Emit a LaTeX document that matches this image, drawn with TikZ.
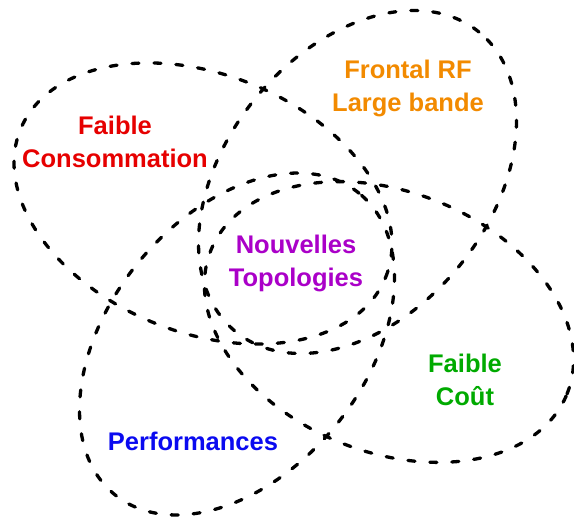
\documentclass[tikz,border=0pt]{standalone}
\usepackage{fontspec}
\setmainfont{Liberation Sans}
\usepackage{tikz}

\definecolor{consored}{RGB}{230,0,0}
\definecolor{rforange}{RGB}{242,138,0}
\definecolor{topopurple}{RGB}{170,0,200}
\definecolor{coutgreen}{RGB}{0,170,0}
\definecolor{perfblue}{RGB}{10,10,240}

\begin{document}
\begin{tikzpicture}
      % Set up styles
      [x=1pt, y=1pt,
       venn/.style={draw=black, line width=3.3pt, line cap=round, dash pattern=on 7pt off 15pt},
       every node/.style={font=\fontsize{25.5}{33}\selectfont\bfseries, align=center, inner sep=0pt}]

      \useasboundingbox (0,0) rectangle (574,517);

      % Centres of the four sets
      \coordinate (conso) at (203,313.5);
      \coordinate (rf) at (357.5,335);
      \coordinate (cout) at (389,195);
      \coordinate (perf) at (237,173);

      % Draw the ellipses
      \draw[venn, rotate around={-22:(conso)}] (conso) ellipse [x radius=197pt, y radius=129pt];
      \draw[venn, rotate around={51:(rf)}] (rf) ellipse [x radius=193pt, y radius=132pt];
      \draw[venn, rotate around={-22:(cout)}] (cout) ellipse [x radius=192pt, y radius=130pt];
      \draw[venn, rotate around={51:(perf)}] (perf) ellipse [x radius=194pt, y radius=128pt];

      % Labels
      \node[text=consored] (lconso) at (115,375) {Faible\\Consommation};
      \node[text=rforange] (lrf) at (408,429) {Frontal RF\\Large bande};
      \node[text=topopurple] (ltopo) at (296,254) {Nouvelles\\Topologies};
      \node[text=coutgreen] (lcout) at (465,137) {Faible\\Coût};
      \node[text=perfblue] (lperf) at (193,76) {Performances};

    \end{tikzpicture}
\end{document}
